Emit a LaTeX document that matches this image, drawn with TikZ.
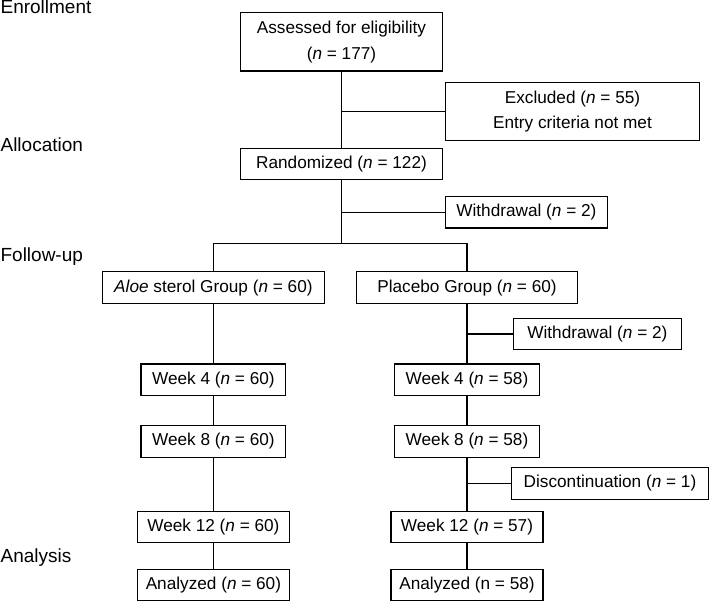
\documentclass[tikz,border=0pt]{standalone}
\usepackage{fontspec}
\setmainfont{Liberation Sans}

\begin{document}
\begin{tikzpicture}[-,x=1pt,y=-1pt,line width=1.2pt,
  box/.style={rectangle,draw,inner sep=0pt,minimum height=31.5pt,align=center,font=\fontsize{17.2}{25.7}\selectfont},
  stage/.style={anchor=base west,inner sep=0pt,font=\fontsize{19}{22}\selectfont}]

            \useasboundingbox (0,0) rectangle (709,602);

            % stages
            \node[stage] (enrol) at (0,14) {Enrollment};
            \node[stage] (alloc) at (0,151.5) {Allocation};
            \node[stage] (follow) at (0,261) {Follow-up};
            \node[stage] (analys) at (0,562.5) {Analysis};

            % boxes
            \node[box, minimum width=201.7pt, minimum height=58.3pt] (assess) at (341.5,41.9) {Assessed for eligibility\\(\textit{n} = 177)};
            \node[box, minimum width=254.2pt, minimum height=58pt] (excl) at (572.5,111.5) {Excluded (\textit{n} = 55)\\Entry criteria not met};
            \node[box, minimum width=201.7pt] (rand) at (341.5,164.1) {Randomized (\textit{n} = 122)};
            \node[box, minimum width=161.9pt] (wd1) at (526.4,212.3) {Withdrawal (\textit{n} = 2)};
            \node[box, minimum width=221.7pt] (aloe) at (213.4,287.6) {\textit{Aloe} sterol Group (\textit{n} = 60)};
            \node[box, minimum width=220.7pt] (plac) at (467,287.6) {Placebo Group (\textit{n} = 60)};
            \node[box, minimum width=168.2pt] (wd2) at (597.4,334) {Withdrawal (\textit{n} = 2)};
            \node[box, minimum width=144.7pt] (w4a) at (213.4,379.7) {Week 4 (\textit{n} = 60)};
            \node[box, minimum width=145.2pt] (w4p) at (467,379.7) {Week 4 (\textit{n} = 58)};
            \node[box, minimum width=144.7pt] (w8a) at (213.4,441.5) {Week 8 (\textit{n} = 60)};
            \node[box, minimum width=145.2pt] (w8p) at (467,441.5) {Week 8 (\textit{n} = 58)};
            \node[box, minimum width=197.2pt] (disc) at (610,483.4) {Discontinuation (\textit{n} = 1)};
            \node[box, minimum width=151.9pt] (w12a) at (213.4,527.1) {Week 12 (\textit{n} = 60)};
            \node[box, minimum width=151.9pt] (w12p) at (467,527.1) {Week 12 (\textit{n} = 57)};
            \node[box, minimum width=151.9pt] (anaa) at (213.4,585) {Analyzed (\textit{n} = 60)};
            \node[box, minimum width=151.9pt] (anap) at (467,585) {Analyzed (n = 58)};

            \coordinate (split) at (341.5,243.8);

            \draw[-] (assess) to (rand);
            \draw[-] (assess.south |- excl.west) to (excl.west);
            \draw[-] (rand) to (split);
            \draw[-] (rand.south |- wd1.west) to (wd1.west);
            \draw[-] (aloe.north) |- (split) -| (plac.north);
            \draw[-] (aloe) to (w4a);
            \draw[-] (w4a) to (w8a);
            \draw[-] (w8a) to (w12a);
            \draw[-] (w12a) to (anaa);
            \draw[-] (plac) to (w4p);
            \draw[-] (plac.south |- wd2.west) to (wd2.west);
            \draw[-] (w4p) to (w8p);
            \draw[-] (w8p) to (w12p);
            \draw[-] (w8p.south |- disc.west) to (disc.west);
            \draw[-] (w12p) to (anap);

            ;
        \end{tikzpicture}
\end{document}
